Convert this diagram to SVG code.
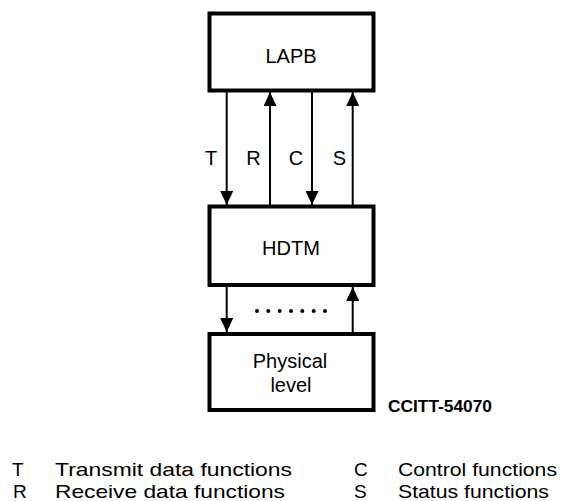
<svg xmlns="http://www.w3.org/2000/svg" width="565" height="501" viewBox="0 0 565 501">
<style>
  .box { fill: #fff; stroke: #000; stroke-width: 4; }
  .lbl { font-family: "Liberation Sans", Arial, sans-serif; font-size: 20px; fill: #000; text-anchor: middle; }
  .leg { font-family: "Liberation Sans", Arial, sans-serif; font-size: 19px; fill: #000; }
  .wire { stroke: #000; stroke-width: 2; fill: none; marker-end: url(#ah); }
  .ref { font-family: "Liberation Sans", Arial, sans-serif; font-size: 16px; font-weight: bold; fill: #000; }
</style>
<defs>
  <marker id="ah" markerUnits="userSpaceOnUse" markerWidth="14" markerHeight="13" refX="14" refY="6.5" orient="auto">
    <path d="M0,0 L14,6.5 L0,13 z" fill="#000"/>
  </marker>
</defs>
<rect width="565" height="501" fill="#fff"/>

<g id="connectors">
  <line class="wire" x1="226.7" y1="92" x2="226.7" y2="205"/>
  <line class="wire" x1="270" y1="205" x2="270" y2="92"/>
  <line class="wire" x1="312" y1="92" x2="312" y2="205"/>
  <line class="wire" x1="352.7" y1="205" x2="352.7" y2="92"/>
  <line class="wire" x1="226.7" y1="286" x2="226.7" y2="332"/>
  <line class="wire" x1="352.7" y1="332" x2="352.7" y2="287"/>
  <g id="dots" fill="#000">
    <circle cx="257" cy="311" r="2"/>
    <circle cx="268.3" cy="311" r="2"/>
    <circle cx="279.7" cy="311" r="2"/>
    <circle cx="291" cy="311" r="2"/>
    <circle cx="302.3" cy="311" r="2"/>
    <circle cx="313.7" cy="311" r="2"/>
    <circle cx="325" cy="311" r="2"/>
  </g>
  <text class="lbl" x="211" y="165">T</text>
  <text class="lbl" x="253.5" y="165">R</text>
  <text class="lbl" x="296" y="165">C</text>
  <text class="lbl" x="339.5" y="165">S</text>
</g>

<g id="lapb">
  <rect class="box" x="209.5" y="13.5" width="164" height="77"/>
  <text class="lbl" x="291" y="63">LAPB</text>
</g>

<g id="hdtm">
  <rect class="box" x="209.5" y="206.5" width="164" height="78.5"/>
  <text class="lbl" x="291" y="255">HDTM</text>
</g>

<g id="physical">
  <rect class="box" x="209.5" y="334" width="164" height="76"/>
  <text class="lbl" x="290" y="368">Physical</text>
  <text class="lbl" x="291" y="392">level</text>
</g>

<text class="ref" x="388" y="412" textLength="104" lengthAdjust="spacingAndGlyphs">CCITT-54070</text>

<g id="legend">
  <text class="leg" x="12" y="476">T</text>
  <text class="leg" x="55" y="476" textLength="237" lengthAdjust="spacingAndGlyphs">Transmit data functions</text>
  <text class="leg" x="13" y="498">R</text>
  <text class="leg" x="55" y="498" textLength="230" lengthAdjust="spacingAndGlyphs">Receive data functions</text>
  <text class="leg" x="354" y="476">C</text>
  <text class="leg" x="398" y="476" textLength="159" lengthAdjust="spacingAndGlyphs">Control functions</text>
  <text class="leg" x="354" y="498">S</text>
  <text class="leg" x="398" y="498" textLength="151" lengthAdjust="spacingAndGlyphs">Status functions</text>
</g>
</svg>
